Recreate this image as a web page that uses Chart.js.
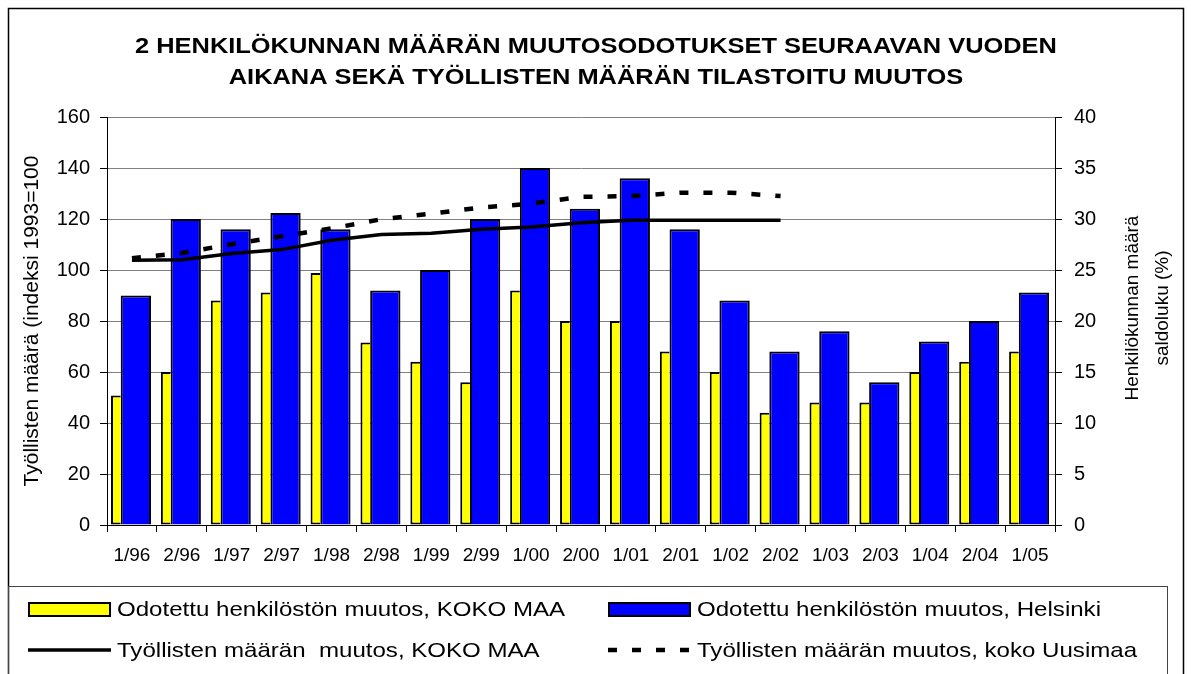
<!DOCTYPE html>
<html>
<head>
<meta charset="utf-8">
<script src="https://cdn.jsdelivr.net/npm/chart.js@4.4.0/dist/chart.umd.min.js"></script>
<style>
  html, body { margin: 0; padding: 0; background: #fff; }
  #wrap { width: 1191px; height: 674px; }
</style>
</head>
<body>
<div id="wrap"><canvas id="chart" width="1191" height="674"></canvas></div>
<script>
// Data
const jaksot = ['1/96','2/96','1/97','2/97','1/98','2/98','1/99','2/99','1/00','2/00',
                '1/01','2/01','1/02','2/02','1/03','2/03','1/04','2/04','1/05'];
// saldoluku (%), right axis
const odotusKokoMaa  = [12.7, 15, 22, 22.8, 24.7, 17.9, 16, 14, 23, 20, 20, 17, 15, 11, 12, 12, 15, 16, 17];
const odotusHelsinki = [22.5, 30, 29, 30.6, 29, 23, 25, 30, 35, 31, 34, 29, 22, 17, 19, 14, 18, 20, 22.8];
// indeksi 1993=100, left axis
const tyollisetKokoMaa = [103.8, 104, 106.5, 108, 111.7, 113.9, 114.4, 116, 116.9, 118.5, 119.5, 119.5, 119.5, 119.5];
const tyollisetUusimaa = [104.6, 106.7, 110.1, 113.2, 116.3, 119.9, 122.1, 124.5, 126, 128.7, 129, 130.3, 130.3, 129];

const otsikko = ['2 HENKILÖKUNNAN MÄÄRÄN MUUTOSODOTUKSET SEURAAVAN VUODEN',
                 'AIKANA SEKÄ TYÖLLISTEN MÄÄRÄN TILASTOITU MUUTOS'];
const vasenOtsikko = 'Työllisten määrä (indeksi 1993=100';
const oikeaOtsikko = ['Henkilökunnan määrä', 'saldoluku (%)'];

const FONT = "'Liberation Sans', Arial, sans-serif";

// the original text is a bit wider than Arial, so stretch it sideways
function venytettyTeksti(ctx, txt, x, y, venytys, align) {
  ctx.save();
  ctx.translate(x, y);
  ctx.scale(venytys, 1);
  ctx.textAlign = align;
  ctx.fillText(txt, 0, 0);
  ctx.restore();
}

// frame, title, legend and right axis title
const kehys = {
  id: 'kehys',
  afterDraw(chart) {
    const ctx = chart.ctx;
    ctx.save();
    ctx.strokeStyle = '#000';
    ctx.lineWidth = 1.5;
    ctx.strokeRect(8.5, 8.5, 1175, 700);
    ctx.lineWidth = 1;
    ctx.strokeStyle = '#444';
    ctx.strokeRect(8.5, 586.5, 1159, 200);

    ctx.fillStyle = '#000';
    ctx.textBaseline = 'middle';
    ctx.font = 'bold 22px ' + FONT;
    venytettyTeksti(ctx, otsikko[0], 596, 47, 1.155, 'center');
    venytettyTeksti(ctx, otsikko[1], 596, 78, 1.155, 'center');

    const cols = [28, 608], rows = [609, 650];
    ctx.font = '21px ' + FONT;
    chart.data.datasets.forEach((ds, i) => {
      const x = cols[i % 2], y = rows[Math.floor(i / 2)];
      if (ds.type === 'bar') {
        ctx.fillStyle = ds.backgroundColor;
        ctx.fillRect(x, y - 7, 83, 15);
        ctx.strokeStyle = '#000';
        ctx.lineWidth = 2;
        ctx.setLineDash([]);
        ctx.strokeRect(x + 1, y - 6, 81, 13);
      } else {
        ctx.strokeStyle = ds.borderColor;
        ctx.lineWidth = ds.borderWidth;
        ctx.setLineDash(ds.borderDash || []);
        ctx.beginPath();
        ctx.moveTo(x, y);
        ctx.lineTo(x + 83, y);
        ctx.stroke();
        ctx.setLineDash([]);
      }
      ctx.fillStyle = '#000';
      venytettyTeksti(ctx, ds.label, x + 89, y + 1, 1.146, 'left');
    });

    // right axis title, read bottom to top like the left one
    ctx.font = '19px ' + FONT;
    ctx.translate(1148, 308);
    ctx.rotate(-Math.PI / 2);
    ctx.textAlign = 'center';
    ctx.fillText(oikeaOtsikko[0], 0, -15);
    ctx.fillText(oikeaOtsikko[1], 0, 15);
    ctx.restore();
  }
};

new Chart(document.getElementById('chart'), {
  data: {
    labels: jaksot,
    datasets: [
      {
        type: 'bar', label: 'Odotettu henkilöstön muutos, KOKO MAA',
        data: odotusKokoMaa, yAxisID: 'y1',
        backgroundColor: '#FFFF00', borderColor: '#000', borderWidth: 2,
        borderSkipped: 'right',
        categoryPercentage: 1.291, barPercentage: 0.301
      },
      {
        type: 'bar', label: 'Odotettu henkilöstön muutos, Helsinki',
        data: odotusHelsinki, yAxisID: 'y1',
        backgroundColor: '#0000FF', borderColor: '#000', borderWidth: 2,
        categoryPercentage: 0.3127, barPercentage: 3.885
      },
      {
        type: 'line', label: 'Työllisten määrän  muutos, KOKO MAA',
        data: tyollisetKokoMaa, yAxisID: 'y', order: -1,
        borderColor: '#000', borderWidth: 3.5, pointRadius: 0, tension: 0, fill: false
      },
      {
        type: 'line', label: 'Työllisten määrän muutos, koko Uusimaa',
        data: tyollisetUusimaa, yAxisID: 'y', order: -2,
        borderColor: '#000', borderWidth: 4.5, borderDash: [9, 15], pointRadius: 0, tension: 0, fill: false
      }
    ]
  },
  options: {
    responsive: false,
    animation: false,
    layout: { padding: { top: 117 } },
    plugins: {
      legend: { display: false },
      tooltip: { enabled: false },
      title: { display: false }
    },
    scales: {
      x: {
        grid: { offset: true, drawOnChartArea: false, tickLength: 7, tickColor: '#000' },
        border: { color: '#000', width: 1 },
        ticks: { color: '#000', font: { family: FONT, size: 19 }, padding: 12, maxRotation: 0, autoSkip: false },
        afterFit: s => { s.height = 149; }
      },
      y: {
        position: 'left', min: 0, max: 160,
        ticks: { stepSize: 20, color: '#000', font: { family: FONT, size: 20 }, padding: 10 },
        grid: { color: '#808080', tickLength: 7, tickColor: '#000' },
        border: { color: '#000', width: 1 },
        title: { display: true, text: vasenOtsikko, color: '#000', font: { family: FONT, size: 21 }, padding: { top: 20 } },
        afterFit: s => { s.width = 107; }
      },
      y1: {
        position: 'right', min: 0, max: 40,
        ticks: { stepSize: 5, color: '#000', font: { family: FONT, size: 20 }, padding: 12 },
        grid: { drawOnChartArea: false, tickLength: 7, tickColor: '#000' },
        border: { color: '#000', width: 1 },
        afterFit: s => { s.width = 136; }
      }
    }
  },
  plugins: [kehys]
});
</script>
</body>
</html>
